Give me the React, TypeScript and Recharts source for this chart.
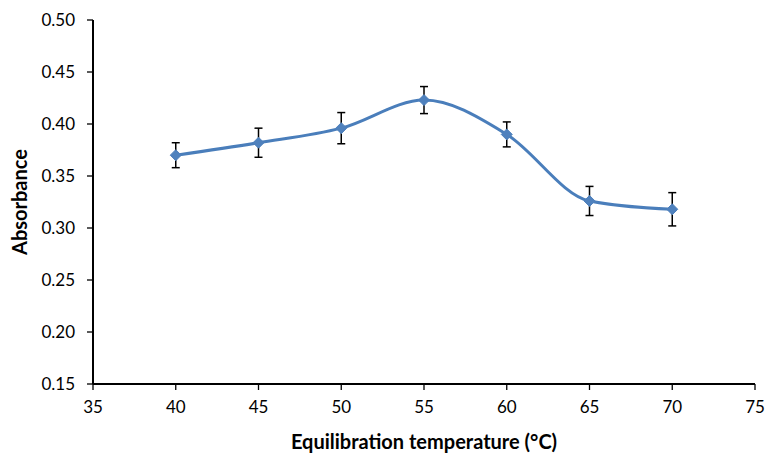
import React from 'react';
import { LineChart, Line, XAxis, YAxis, ErrorBar } from 'recharts';

// values
const temps = [40, 45, 50, 55, 60, 65, 70];
const absorbance = [0.37, 0.382, 0.396, 0.423, 0.39, 0.326, 0.318];
const errors = [0.012, 0.014, 0.015, 0.013, 0.012, 0.014, 0.016];

const xTicks = [35, 40, 45, 50, 55, 60, 65, 70, 75];
const yTicks = [0.15, 0.2, 0.25, 0.3, 0.35, 0.4, 0.45, 0.5];

const data = temps.map((t, i) => ({ temp: t, abs: absorbance[i], err: errors[i] }));

const font = 'Lato, "Open Sans", sans-serif';

const Diamond = (props: any) => {
  const { cx, cy } = props;
  if (cx == null || cy == null) return null;
  const r = 5.5;
  return (
    <polygon
      key={`d-${cx}`}
      points={`${cx},${cy - r} ${cx + r},${cy} ${cx},${cy + r} ${cx - r},${cy}`}
      fill="#4f81bd"
      stroke="#4f81bd"
    />
  );
};

export default function App() {
  return (
    <div style={{ width: 768, height: 455, background: '#fff' }}>
      <style>{'body{margin:0}'}</style>
      <LineChart
        width={768}
        height={455}
        data={data}
        margin={{ top: 20, right: 13, bottom: 0, left: 0 }}
      >
        <XAxis
          dataKey="temp"
          type="number"
          domain={[35, 75]}
          ticks={xTicks}
          interval={0}
          height={71}
          tickSize={6}
          tickMargin={11}
          axisLine={{ stroke: '#000', strokeWidth: 2 }}
          tickLine={{ stroke: '#000', strokeWidth: 1.3 }}
          tick={{ fill: '#000', fontSize: 17, fontFamily: font }}
          label={{
            value: 'Equilibration temperature (°C)',
            position: 'insideBottom',
            offset: 6,
            fill: '#000',
            fontSize: 20,
            fontWeight: 700,
            fontFamily: font,
          }}
        />
        <YAxis
          type="number"
          domain={[0.15, 0.5]}
          ticks={yTicks}
          interval={0}
          width={93}
          tickSize={6}
          tickMargin={12}
          tickFormatter={(v: number) => v.toFixed(2)}
          axisLine={{ stroke: '#000', strokeWidth: 2 }}
          tickLine={{ stroke: '#000', strokeWidth: 1.3 }}
          tick={{ fill: '#000', fontSize: 17, fontFamily: font }}
          label={{
            value: 'Absorbance',
            angle: -90,
            position: 'center',
            dx: -27,
            fill: '#000',
            fontSize: 20,
            fontWeight: 700,
            fontFamily: font,
          }}
        />
        <Line
          type="monotone"
          dataKey="abs"
          stroke="#4a7ebb"
          strokeWidth={3}
          dot={Diamond}
          activeDot={false}
          isAnimationActive={false}
        >
          <ErrorBar dataKey="err" direction="y" width={4} stroke="#000" strokeWidth={1.5} />
        </Line>
      </LineChart>
    </div>
  );
}
